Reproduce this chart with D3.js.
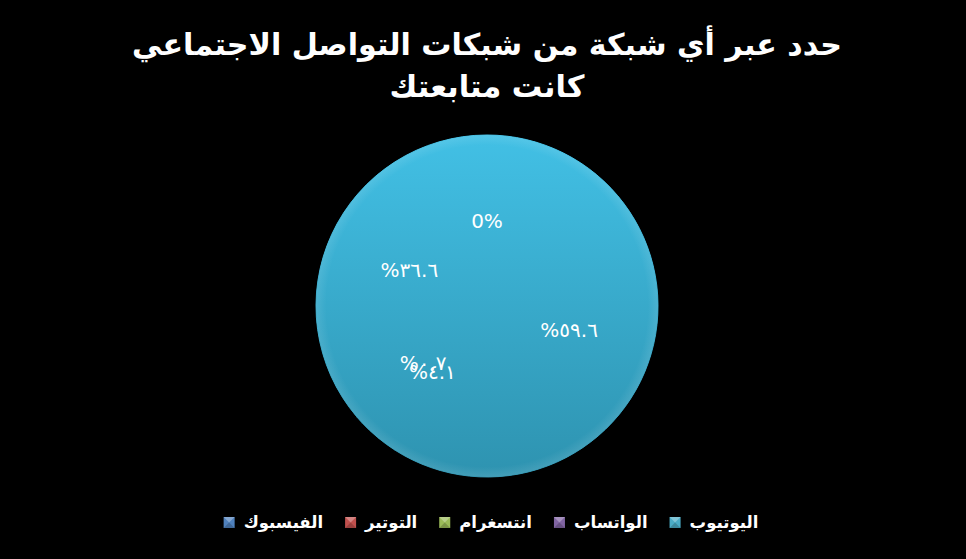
<!DOCTYPE html>
<html>
<head>
<meta charset="utf-8">
<script src="https://cdn.jsdelivr.net/npm/d3@7"></script>
<style>
  html, body { margin: 0; padding: 0; background: #000; }
  svg { display: block; }
  text { font-family: "DejaVu Sans", sans-serif; fill: #fff; }
</style>
</head>
<body>
<svg id="chart" width="966" height="559"></svg>
<script>
const width = 966, height = 559;

// data (slice order as plotted, clockwise from 12 o'clock)
const categories = ["اليوتيوب", "الواتساب", "انتسغرام", "التوتير", "الفيسبوك"];
const values = [59.6, 4.1, 0.7, 36.6, 0];
const valueLabels = ["٥٩.٦%", "٤.١%", "٠.٧%", "٣٦.٦%", "0%"];
const legendColors = ["#4bacc6", "#8064a2", "#9bbb59", "#c0504d", "#4f81bd"];
const titleLines = ["حدد عبر أي شبكة من شبكات التواصل الاجتماعي", "كانت متابعتك"];

const cx = 487, cy = 306, r = 171;

const svg = d3.select("#chart");
const defs = svg.append("defs");

const grad = defs.append("linearGradient")
  .attr("id", "pieFill").attr("gradientUnits", "userSpaceOnUse")
  .attr("x1", 0).attr("y1", -r).attr("x2", 0).attr("y2", r);
grad.append("stop").attr("offset", "0%").attr("stop-color", "#42c0e5");
grad.append("stop").attr("offset", "100%").attr("stop-color", "#2e93b0");

const rim = defs.append("radialGradient").attr("id", "rim");
rim.append("stop").attr("offset", "94%").attr("stop-color", "#fff").attr("stop-opacity", 0);
rim.append("stop").attr("offset", "100%").attr("stop-color", "#fff").attr("stop-opacity", 0.1);

// title, scaled to the width it has in the picture
const titleSize = [31, 31], titleWidth = [710, 195], titleY = [55, 97];
titleLines.forEach((line, i) => {
  const t = svg.append("text")
    .attr("x", 487).attr("y", titleY[i])
    .attr("text-anchor", "middle")
    .style("font-weight", "bold")
    .style("font-size", titleSize[i] + "px")
    .text(line);
  const w = t.node().getComputedTextLength();
  t.style("font-size", (titleSize[i] * titleWidth[i] / w) + "px");
});

// pie
const pie = d3.pie().sort(null).value(d => d)(values);
const arc = d3.arc().innerRadius(0).outerRadius(r);
const labelArc = d3.arc().innerRadius(r * 0.5).outerRadius(r * 0.5);

const g = svg.append("g").attr("transform", `translate(${cx},${cy})`);

g.append("circle").attr("r", r).attr("fill", "url(#pieFill)");

g.selectAll("path.slice")
  .data(pie)
  .enter().append("path")
  .attr("class", "slice")
  .attr("d", arc)
  .attr("fill", "url(#pieFill)")
  .attr("stroke", "url(#pieFill)")
  .attr("stroke-width", 1);

g.append("circle").attr("r", r).attr("fill", "url(#rim)");

g.selectAll("text.lbl")
  .data(pie)
  .enter().append("text")
  .attr("class", "lbl")
  .attr("transform", d => `translate(${labelArc.centroid(d)})`)
  .attr("text-anchor", "middle")
  .attr("dy", "0.35em")
  .attr("direction", "rtl")
  .style("font-size", "20px")
  .text((d, i) => valueLabels[i]);

// legend, laid out from right to left
const legend = svg.append("g");
let x = 0;
categories.forEach((name, i) => {
  const item = legend.append("g");
  const t = item.append("text")
    .attr("x", x).attr("dy", "0.35em")
    .attr("text-anchor", "end")
    .style("font-weight", "bold")
    .style("font-size", "16.5px")
    .text(name);
  const w = t.node().getComputedTextLength();
  const mx = x - w - 20;
  item.append("rect")
    .attr("x", mx).attr("y", -5)
    .attr("width", 11).attr("height", 11)
    .attr("fill", legendColors[i]);
  item.append("path")
    .attr("d", `M${mx},-5 l5.5,5.5 l5.5,-5.5 z`)
    .attr("fill", "#fff").attr("opacity", 0.3);
  item.append("path")
    .attr("d", `M${mx},6 l5.5,-5.5 l5.5,5.5 z`)
    .attr("fill", "#000").attr("opacity", 0.2);
  x = mx - 22;
});
const lb = legend.node().getBBox();
legend.attr("transform", `translate(${491 - (lb.x + lb.width / 2)},522)`);
</script>
</body>
</html>
